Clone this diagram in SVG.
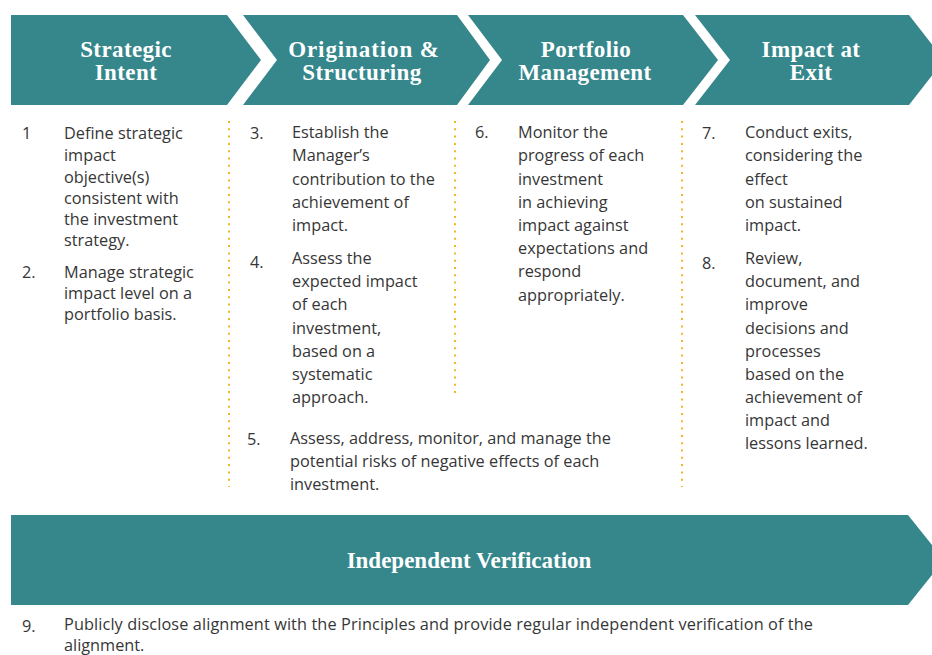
<svg xmlns="http://www.w3.org/2000/svg" width="932" height="655" viewBox="0 0 932 655">
  <style>
    .stage { fill: #35878C; }
    .head { font-family: "Liberation Serif", "Times New Roman", serif; font-weight: bold; font-size: 23px; fill: #ffffff; text-anchor: middle; letter-spacing: 0.4px; }
    .body { font-family: "Open Sans", "Noto Sans", sans-serif; font-size: 16.3px; fill: #363636; }
    .divider { stroke: #F2B526; stroke-width: 2; stroke-dasharray: 2 5.3; fill: none; }
  </style>

  <rect width="932" height="655" fill="#ffffff"/>

  <!-- stage chevrons -->
  <g id="stage-strategic-intent">
    <polygon class="stage" points="11,15 227,15 261,60 227,105 11,105"/>
    <text class="head" x="126" y="57">Strategic</text>
    <text class="head" x="126" y="80">Intent</text>
  </g>
  <g id="stage-origination">
    <polygon class="stage" points="243,15 457,15 490,60 457,105 243,105 277,60"/>
    <text class="head" x="364" y="57" style="letter-spacing:0.9px">Origination &amp;</text>
    <text class="head" x="362" y="80">Structuring</text>
  </g>
  <g id="stage-portfolio">
    <polygon class="stage" points="468,15 683,15 718,60 683,105 468,105 502,60"/>
    <text class="head" x="586" y="57">Portfolio</text>
    <text class="head" x="585" y="80">Management</text>
  </g>
  <g id="stage-exit">
    <polygon class="stage" points="695,15 909,15 944,60 909,105 695,105 730,60"/>
    <text class="head" x="811" y="57">Impact at</text>
    <text class="head" x="811" y="80">Exit</text>
  </g>

  <!-- column separators -->
  <g id="dividers">
    <line class="divider" x1="229" y1="121" x2="229" y2="487"/>
    <line class="divider" x1="455" y1="121" x2="455" y2="397"/>
    <line class="divider" x1="682" y1="121" x2="682" y2="487"/>
  </g>

  <!-- principles 1-2 -->
  <g id="col-strategic-intent" class="body">
    <text x="22" y="139">1</text>
    <text x="64" y="139">Define strategic</text>
    <text x="64" y="161">impact</text>
    <text x="64" y="183">objective(s)</text>
    <text x="64" y="204">consistent with</text>
    <text x="64" y="225">the investment</text>
    <text x="64" y="246">strategy.</text>
    <text x="22" y="278">2.</text>
    <text x="64" y="278">Manage strategic</text>
    <text x="64" y="299">impact level on a</text>
    <text x="64" y="320">portfolio basis.</text>
  </g>

  <!-- principles 3-5 -->
  <g id="col-origination" class="body">
    <text x="250" y="139">3.</text>
    <text x="292" y="138">Establish the</text>
    <text x="292" y="161">Manager’s</text>
    <text x="292" y="185">contribution to the</text>
    <text x="292" y="208">achievement of</text>
    <text x="292" y="231">impact.</text>
    <text x="250" y="268">4.</text>
    <text x="292" y="264">Assess the</text>
    <text x="292" y="287">expected impact</text>
    <text x="292" y="310">of each</text>
    <text x="292" y="334">investment,</text>
    <text x="292" y="357">based on a</text>
    <text x="292" y="380">systematic</text>
    <text x="292" y="403">approach.</text>
    <text x="247" y="445">5.</text>
    <text x="290" y="444">Assess, address, monitor, and manage the</text>
    <text x="290" y="467">potential risks of negative effects of each</text>
    <text x="290" y="490">investment.</text>
  </g>

  <!-- principle 6 -->
  <g id="col-portfolio" class="body">
    <text x="475" y="138">6.</text>
    <text x="518" y="138">Monitor the</text>
    <text x="518" y="161">progress of each</text>
    <text x="518" y="185">investment</text>
    <text x="518" y="208">in achieving</text>
    <text x="518" y="231">impact against</text>
    <text x="518" y="254">expectations and</text>
    <text x="518" y="277">respond</text>
    <text x="518" y="301">appropriately.</text>
  </g>

  <!-- principles 7-8 -->
  <g id="col-exit" class="body">
    <text x="702" y="139">7.</text>
    <text x="745" y="138">Conduct exits,</text>
    <text x="745" y="161">considering the</text>
    <text x="745" y="185">effect</text>
    <text x="745" y="208">on sustained</text>
    <text x="745" y="231">impact.</text>
    <text x="702" y="269">8.</text>
    <text x="745" y="264">Review,</text>
    <text x="745" y="287">document, and</text>
    <text x="745" y="310">improve</text>
    <text x="745" y="334">decisions and</text>
    <text x="745" y="357">processes</text>
    <text x="745" y="380">based on the</text>
    <text x="745" y="403">achievement of</text>
    <text x="745" y="426">impact and</text>
    <text x="745" y="449">lessons learned.</text>
  </g>

  <!-- verification banner -->
  <g id="stage-verification">
    <polygon class="stage" points="11,515 908,515 944,560 908,605 11,605"/>
    <text class="head" x="469" y="568" style="letter-spacing:0">Independent Verification</text>
  </g>

  <!-- principle 9 -->
  <g id="principle-9" class="body">
    <text x="22" y="632">9.</text>
    <text x="64" y="630" textLength="749" lengthAdjust="spacing">Publicly disclose alignment with the Principles and provide regular independent verification of the</text>
    <text x="64" y="651">alignment.</text>
  </g>
</svg>
